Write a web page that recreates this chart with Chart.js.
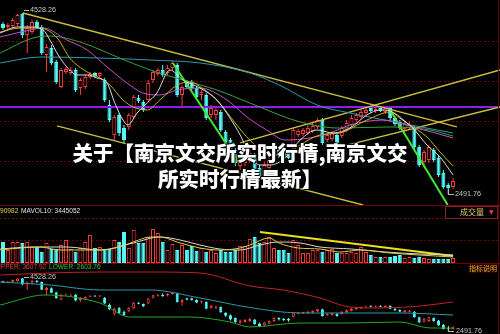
<!DOCTYPE html>
<html><head><meta charset="utf-8">
<script src="https://cdn.jsdelivr.net/npm/chart.js@4/dist/chart.umd.min.js"></script>
<style>
html,body{margin:0;padding:0;background:#000;width:500px;height:334px;overflow:hidden;}
#wrap{position:relative;width:500px;height:334px;background:#000;overflow:hidden;}
canvas{position:absolute;left:0;}
.t{position:absolute;font-family:"Liberation Sans",Arial,sans-serif;font-size:6.6px;line-height:8px;white-space:nowrap;color:#c8c8c8;}
.hl{position:absolute;left:0;width:500px;height:1px;background:#7a0000;}
.title{position:absolute;left:-3px;width:486px;top:139px;text-align:center;font-family:"Noto Sans CJK SC","Noto Sans",sans-serif;font-weight:900;font-size:20.5px;line-height:26px;color:#fff;text-shadow:0 0 2px #000,1px 1px 1px #000,-1px -1px 1px #000;}
</style></head><body>
<div id="wrap">
<canvas id="main" width="500" height="205" style="top:0"></canvas>
<canvas id="vol" width="500" height="58" style="top:205px"></canvas>
<canvas id="boll" width="500" height="71" style="top:263px"></canvas>
<div class="hl" style="top:205px"></div>
<div class="hl" style="top:263px"></div>
<div style="position:absolute;left:498px;top:0;width:1px;height:334px;background:#5a0000"></div>

<div style="position:absolute;left:24px;top:10px;width:5px;border-top:1px solid #bbb"></div>
<div class="t" style="left:30px;top:6px;font-size:7.2px">4528.26</div>
<div style="position:absolute;left:448px;top:189px;width:5px;height:5px;border-left:1px solid #bbb;border-bottom:1px solid #bbb"></div>
<div class="t" style="left:455px;top:190px;font-size:7.2px">2491.76</div>

<div style="position:absolute;left:445px;top:206px;width:51px;height:11px;border:1px solid #8b1a3a;background:#000"></div>
<div class="t" style="left:460px;top:207px;font-family:'Noto Sans CJK SC',sans-serif;font-size:8px;line-height:10px;color:#e6c86e">成交量</div>
<div class="t" style="left:489px;top:207px;font-family:'DejaVu Sans',sans-serif;font-size:6px;line-height:10px;color:#ff3060">▼</div>

<div class="t" style="left:0px;top:207px;color:#e0cc50">90982</div>
<div class="t" style="left:21px;top:207px;color:#e0e0e0">MAVOL10: 3445052</div>

<div class="t" style="left:-4px;top:263px;color:#e04040">UPPER: 3607.92</div>
<div class="t" style="left:49px;top:263px;color:#40c040">LOWER: 2603.76</div>
<div class="t" style="left:469px;top:264px;font-family:'Noto Sans CJK SC',sans-serif;font-size:7px;line-height:9px;color:#d8b020;background:#2a0000">指标说明</div>

<div style="position:absolute;left:24px;top:277px;width:5px;border-top:1px solid #bbb"></div>
<div class="t" style="left:30px;top:273px;font-size:7.2px">4528.26</div>
<div style="position:absolute;left:448px;top:326px;width:5px;height:5px;border-left:1px solid #bbb;border-bottom:1px solid #bbb"></div>
<div class="t" style="left:456px;top:327px;font-size:7.2px">2491.76</div>

<div class="title">关于【南京文交所实时行情,南京文交<br>所实时行情最新】</div>
</div>
<script>
// ---------- DATA ----------
const openP = [4404,4371,4382,4404,4517,4281,4314,4427,4371,4056,
4134,3977,3696,3864,3853,3887,3684,3696,3808,3853,
3819,3774,3493,3156,3381,3234,3246,3358,3572,3527,
3549,3774,3842,3887,3853,3909,3943,3606,3752,3752,
3684,3606,3606,3381,3381,3414,3189,3099,2987,2807,
2841,2874,2931,2784,2706,2784,2874,2987,2964,2953,
3043,3156,3167,3178,3201,3246,3324,3099,3111,3156,
3144,3212,3268,3324,3358,3403,3459,3426,3459,3414,
3459,3347,3302,3223,3234,3234,3021,2852,2874,2987,
2897,2728,2593,2571];
const closeP = [4359,4393,4449,4506,4281,4359,4427,4371,4078,4146,
3966,3752,3887,3898,3887,3662,3774,3808,3842,3819,
3853,3549,3324,3358,3178,3099,3381,3583,3538,3437,
3741,3864,3887,3831,3909,3966,3606,3696,3696,3684,
3583,3639,3347,3459,3437,3212,3077,2931,2841,2897,
2919,2953,2762,2683,2818,2874,2987,2931,2908,2897,
3212,3201,3212,3234,3257,3324,3066,3156,3178,3066,
3234,3291,3347,3381,3414,3437,3426,3448,3426,3459,
3347,3279,3234,3279,3268,3021,2818,2964,3021,2874,
2706,2571,2559,2638];
const highP = [4427,4416,4472,4517,4528.26,4393,4449,4449,4393,4179,
4168,3999,3909,3921,3921,3909,3797,3831,3864,3864,
3864,3797,3549,3381,3403,3268,3403,3606,3606,3549,
3774,3887,3909,3943,3943,3988,3966,3718,3774,3774,
3707,3662,3628,3493,3459,3437,3212,3122,3009,2931,
2953,2987,2953,2818,2852,2897,3009,3021,2987,2987,
3234,3223,3234,3268,3291,3347,3347,3178,3201,3178,
3257,3324,3381,3403,3437,3471,3482,3471,3482,3482,
3482,3369,3324,3302,3302,3257,3043,2987,3043,3009,
2919,2762,2616,2672];
const lowP = [4337,4348,4359,4382,4247,4078,4292,4348,4056,3864,
3943,3729,3684,3842,3831,3639,3606,3673,3786,3797,
3797,3527,3302,3099,3144,3066,3212,3336,3516,3414,
3527,3741,3819,3808,3831,3887,3583,3459,3673,3662,
3561,3549,3324,3347,3324,3189,3043,2897,2807,2762,
2807,2841,2728,2638,2672,2762,2841,2897,2874,2852,
3009,3133,3144,3156,3178,3223,3043,3077,3088,3043,
3122,3189,3246,3302,3336,3381,3403,3403,3414,3392,
3324,3257,3212,3189,3212,2998,2796,2818,2841,2852,
2683,2548,2491.76,2548];
const volume = [9030000,5590000,9030000,9030000,8600000,9030000,6880000,6880000,4730000,8600000,
6020000,6020000,7740000,9890000,6020000,4730000,6450000,9030000,12040000,6450000,
6880000,6020000,6020000,9890000,9030000,13330000,6450000,14190000,8600000,8600000,
11180000,14620000,12900000,9030000,
5590000,8170000,5590000,7740000,5590000,7310000,5160000,6450000,4730000,5590000,
4300000,5590000,4730000,4730000,5590000,7310000,7310000,10320000,11180000,8600000,
9030000,11180000,6450000,5590000,5590000,4300000,9890000,7740000,4300000,4300000,
5590000,5590000,4730000,5590000,
6020000,4300000,4300000,4300000,4730000,4300000,6880000,4730000,3440000,2580000,
2580000,2580000,2580000,3010000,3440000,2150000,2580000,2150000,2580000,2150000,
1720000,1720000,1720000,1720000,1720000,2150000];

const ma5 = [[-0.6,4303],[2.9,4371],[5.6,4371],[8.3,4337],[9.7,4224],[11.4,4056],[13.2,3921],[15.3,3831],[17.4,3831],[19.4,3797],[21.5,3741],[23.1,3516],[24.8,3324],[25.8,3268],[27.7,3403],[29.8,3516],[31.8,3628],[34.5,3887],[37.2,3774],[40.7,3684],[44.2,3549],[46.9,3347],[49.0,3156],[51.0,2931],[53.1,2818],[55.2,2818],[58.3,2897],[61.4,3099],[64.9,3212],[68.2,3178],[71.7,3234],[75.2,3381],[77.9,3437],[80.0,3426],[82.0,3347],[84.7,3234],[87.6,3043],[90.3,2908],[93.0,2706]];
const ma10 = [[-0.6,4314],[3.5,4359],[7.6,4359],[11.2,4247],[13.8,4022],[17.4,3864],[20.0,3797],[22.1,3718],[24.8,3549],[26.9,3471],[29.8,3437],[32.4,3549],[36.0,3718],[38.6,3752],[41.7,3662],[44.2,3549],[48.3,3268],[51.0,3099],[55.2,2931],[58.3,2931],[61.4,3043],[65.5,3156],[69.6,3178],[75.2,3324],[80.0,3414],[84.1,3268],[87.6,3133],[90.3,2964],[93.0,2807]];
const ma20 = [[-0.6,4258],[5.6,4337],[8.3,4359],[13.2,4224],[17.4,4112],[21.5,3921],[25.6,3741],[28.9,3628],[32.4,3606],[36.0,3662],[40.7,3684],[46.3,3549],[50.4,3358],[54.5,3212],[58.3,3099],[63.4,3122],[67.6,3178],[71.7,3268],[78.5,3324],[85.5,3234],[93.0,3122]];
const ma30 = [[-0.6,4078],[6.2,4247],[9.7,4269],[16.5,4191],[23.6,4033],[30.4,3887],[37.2,3774],[44.2,3662],[51.0,3516],[61.4,3302],[69.6,3234],[80.0,3246],[88.2,3212],[93.0,3144]];
const ma60 = [[-0.6,3966],[7.6,4033],[20.0,4022],[30.4,3999],[40.7,3966],[51.0,3853],[57.9,3696],[64.9,3493],[71.7,3403],[82.0,3291],[93.0,3178]];

const channelTop = [[4.13,4528.26],[93.8,3246]];
const channelBot = [[11.16,3257],[74.4,2368]];
const riseA = [[49.0,3066],[102.7,3887]];
const riseB = [[69.6,3021],[102.7,3471]];
const greenA = [[35.1,3966],[48.6,2852]];
const greenB = [[80.0,3437],[91.9,2368]];
const keyLevel = 3470.5;

const mavol5 = [[-0.6,5590000],[3.5,6450000],[7.6,6880000],[11.8,5590000],[15.9,5590000],[20,5590000],[24,6880000],[28,9890000],[30.4,11180000],[32.4,11180000],[36.6,8600000],[40.7,6450000],[44.8,5590000],[49,6450000],[51,7740000],[55,10750000],[57,8600000],[61,6450000],[65.5,6020000],[69.6,4730000],[73.8,5590000],[80,4300000],[86,3440000],[93,2580000]];
const mavol10 = [[-0.6,6020000],[6.2,6880000],[13.2,6880000],[20,5590000],[26.9,8600000],[32.4,11180000],[36.6,9890000],[40.7,7740000],[44.8,6020000],[49,5590000],[53.1,7740000],[57,9030000],[61.4,8600000],[65.5,6880000],[72,6020000],[79,4730000],[86.2,3870000],[93,3445052]];
const volTrend = [[53.1,13330000],[93,3010000]];

const bollUp = [[-0.6,4643],[9.7,4720],[20,4758],[30.4,4758],[40.7,4720],[51,4221],[57.9,4067],[65.5,3760],[71.7,3414],[77.9,3376],[86.2,3453],[93,3607.92]];
const bollMid = [[-0.6,4374],[9.7,4259],[20,4067],[30.4,4067],[40.7,3760],[51,3395],[61.4,3184],[71.7,3184],[82,3184],[93,3106]];
const bollLow = [[-0.6,3491],[8.7,3875],[20,3568],[26.2,3030],[38.6,3030],[46.9,2838],[51,2646],[61.4,2800],[71.7,2800],[82,2838],[88.2,2608],[93,2603.76]];

const mainGrid = [4202,3752,3302,2852];
const volGrid = [19350000,9890000];

// ---------- DRAW ----------
const RED = '#ff3c3c', CYAN = '#54fcfc';
const XMIN = -0.62, XMAX = 102.7;
const up = i => closeP[i] >= openP[i];

function candleSets(bodyW, wickW){
  return [
    {type:'bar', order:1, grouped:false, barThickness:bodyW, borderSkipped:false, inflateAmount:0,
     data: openP.map((o,i)=>({x:i, y:[o, closeP[i]]})),
     backgroundColor: c => up(c.dataIndex) ? '#000' : CYAN,
     borderColor: c => up(c.dataIndex) ? RED : CYAN, borderWidth:1},
    {type:'bar', order:2, grouped:false, barThickness:wickW, borderSkipped:false, inflateAmount:0,
     data: highP.map((h,i)=>({x:i, y:[lowP[i], h]})),
     backgroundColor: c => up(c.dataIndex) ? RED : CYAN, borderWidth:0}
  ];
}
function lineSet(pts, color, width, tension){
  return {type:'line', order:0, data: pts.map(p=>({x:p[0], y:p[1]})), borderColor:color,
          borderWidth:width, pointRadius:0, tension:tension, fill:false, cubicInterpolationMode: tension? 'monotone':'default'};
}
function opts(ymin, ymax, grid){
  return {
    responsive:false, animation:false, devicePixelRatio:1, events:[],
    layout:{padding:0},
    plugins:{legend:{display:false}, tooltip:{enabled:false}},
    scales:{
      x:{type:'linear', min:XMIN, max:XMAX, display:false, offset:false, grid:{offset:false}},
      y:{type:'linear', min:ymin, max:ymax, display:true, ticks:{display:false},
         grid:{color:'#6a0000', drawTicks:false, lineWidth:1},
         border:{display:false, dash:[2,2]},
         afterFit: s => { s.width = 0; },
         afterBuildTicks: s => { s.ticks = grid.map(v => ({value:v})); }}
    }
  };
}

new Chart(document.getElementById('main'), {
  type:'bar',
  data:{datasets:[
    lineSet(ma5,'#dcdcdc',1,0.4),
    lineSet(ma10,'#c8b418',1,0.4),
    lineSet(ma20,'#c850c8',1,0.4),
    lineSet(ma30,'#3aa03a',1,0.4),
    lineSet(ma60,'#2a9aaa',1,0.4),
    lineSet(channelTop,'#c8c040',1.3,0),
    lineSet(channelBot,'#c8c040',1.3,0),
    lineSet(riseA,'#c8c040',1.3,0),
    lineSet(riseB,'#c8c040',1.3,0),
    lineSet(greenA,'#40e830',2,0),
    lineSet(greenB,'#40e830',2,0),
    lineSet([[XMIN,keyLevel],[XMAX,keyLevel]],'#8c1cf0',2,0),
    ...candleSets(4,1)
  ]},
  options: opts(2368, 4674.5, mainGrid)
});

new Chart(document.getElementById('vol'), {
  type:'bar',
  data:{datasets:[
    lineSet(mavol5,'#e0cc40',1,0.4),
    lineSet(mavol10,'#d8d8d8',1,0.4),
    lineSet(volTrend,'#e8e020',2,0),
    {type:'bar', order:1, grouped:false, barThickness:4, borderSkipped:false, inflateAmount:0,
     data: volume.map((v,i)=>({x:i, y:v})),
     backgroundColor: c => up(c.dataIndex) ? '#000' : CYAN,
     borderColor: c => up(c.dataIndex) ? RED : CYAN, borderWidth:1}
  ]},
  options: opts(0, 24940000, volGrid)
});

new Chart(document.getElementById('boll'), {
  type:'bar',
  data:{datasets:[
    lineSet(bollUp,'#c02424',1,0.4),
    lineSet(bollMid,'#2a9aaa',1,0.4),
    lineSet(bollLow,'#22a822',1,0.4),
    ...candleSets(3,1)
  ]},
  options: opts(2377, 5104, [])
});
</script>
</body></html>
